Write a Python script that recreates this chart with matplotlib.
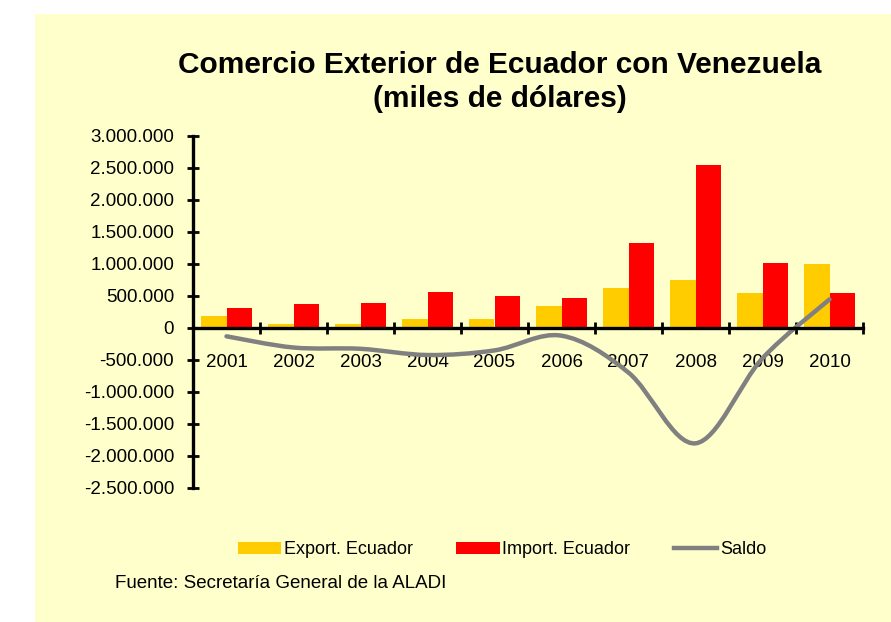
import matplotlib
matplotlib.use("Agg")
import matplotlib.pyplot as plt
from matplotlib.path import Path
from matplotlib.patches import PathPatch, Rectangle
from matplotlib.lines import Line2D
from matplotlib.ticker import FuncFormatter

# Data (miles de dolares)
years = ["2001", "2002", "2003", "2004", "2005", "2006", "2007", "2008", "2009", "2010"]
export_ec = [190000, 70000, 70000, 145000, 145000, 348000, 625000, 750000, 547000, 994000]
import_ec = [312000, 375000, 395000, 567000, 495000, 468000, 1322000, 2552000, 1020000, 547000]
saldo = [-130000, -305000, -325000, -422000, -350000, -120000, -697000, -1802000, -473000, 447000]

plt.rcParams["font.family"] = ["Liberation Sans", "DejaVu Sans"]

fig = plt.figure(figsize=(8.91, 6.22), dpi=100, facecolor="white")
# yellow chart area
fig.patches.append(Rectangle((35 / 891, 0), 1, 1 - 14 / 622, transform=fig.transFigure,
                             facecolor="#FFFFCC", edgecolor="none", zorder=-5))

ax = fig.add_axes([193 / 891, 1 - 488 / 622, (863 - 193) / 891, (488 - 136) / 622])
ax.set_facecolor("none")
ax.set_zorder(2)

x = list(range(1, len(years) + 1))
w = 0.38
ax.bar([i - w / 2 for i in x], export_ec, width=w, color="#FFCC00", zorder=2)
ax.bar([i + w / 2 for i in x], import_ec, width=w, color="#FF0000", zorder=2)

# smoothed line (Excel style, bezier through the points)
pts = list(zip(x, saldo))
verts = [pts[0]]
codes = [Path.MOVETO]
for i in range(len(pts) - 1):
    p0 = pts[i - 1] if i > 0 else pts[i]
    p1 = pts[i]
    p2 = pts[i + 1]
    p3 = pts[i + 2] if i + 2 < len(pts) else pts[i + 1]
    c1 = (p1[0] + (p2[0] - p0[0]) / 6, p1[1] + (p2[1] - p0[1]) / 6)
    c2 = (p2[0] - (p3[0] - p1[0]) / 6, p2[1] - (p3[1] - p1[1]) / 6)
    verts += [c1, c2, p2]
    codes += [Path.CURVE4] * 3
ax.add_patch(PathPatch(Path(verts, codes), facecolor="none", edgecolor="#808080",
                       lw=3.2, capstyle="round", zorder=3))

ax.set_xlim(0.5, len(years) + 0.5)
ax.set_ylim(-2500000, 3000000)
ax.set_yticks(range(-2500000, 3000001, 500000))
ax.yaxis.set_major_formatter(FuncFormatter(lambda v, p: "{:,.0f}".format(v).replace(",", ".")))

for s in ["top", "right"]:
    ax.spines[s].set_visible(False)
ax.spines["left"].set_linewidth(2.4)
ax.spines["bottom"].set_linewidth(2.4)
ax.spines["bottom"].set_position(("data", 0))
ax.spines["bottom"].set_zorder(4)

ax.tick_params(axis="y", direction="inout", length=9, width=2, labelsize=13.5, pad=9)
ax.set_xticks([i + 0.5 for i in range(len(years) + 1)])
ax.set_xticklabels([])
ax.tick_params(axis="x", which="major", direction="inout", length=9, width=2)
ax.set_xticks(x, minor=True)
ax.set_xticklabels(years, minor=True)
ax.tick_params(axis="x", which="minor", length=0, labelsize=13.5, pad=19)

fig.text(0.561, 1 - 65 / 622, "Comercio Exterior de Ecuador con Venezuela", ha="center", va="center",
         fontsize=21.5, fontweight="bold")
fig.text(0.561, 1 - 99 / 622, "(miles de dólares)", ha="center", va="center",
         fontsize=21.5, fontweight="bold")

handles = [Rectangle((0, 0), 1, 1, facecolor="#FFCC00", edgecolor="none"),
           Rectangle((0, 0), 1, 1, facecolor="#FF0000", edgecolor="none"),
           Line2D([0], [0], color="#808080", lw=3.2)]
fig.legend(handles, ["Export. Ecuador", "Import. Ecuador", "Saldo"], loc="center",
           bbox_to_anchor=(502 / 891, 1 - 550 / 622), ncol=3, frameon=False, fontsize=13,
           handlelength=2.4, handleheight=0.6, handletextpad=0.15, columnspacing=2.4)

fig.text(115 / 891, 1 - 584 / 622, "Fuente: Secretaría General de la ALADI", ha="left", va="center",
         fontsize=13.5)

fig.savefig("out.png", dpi=100)
